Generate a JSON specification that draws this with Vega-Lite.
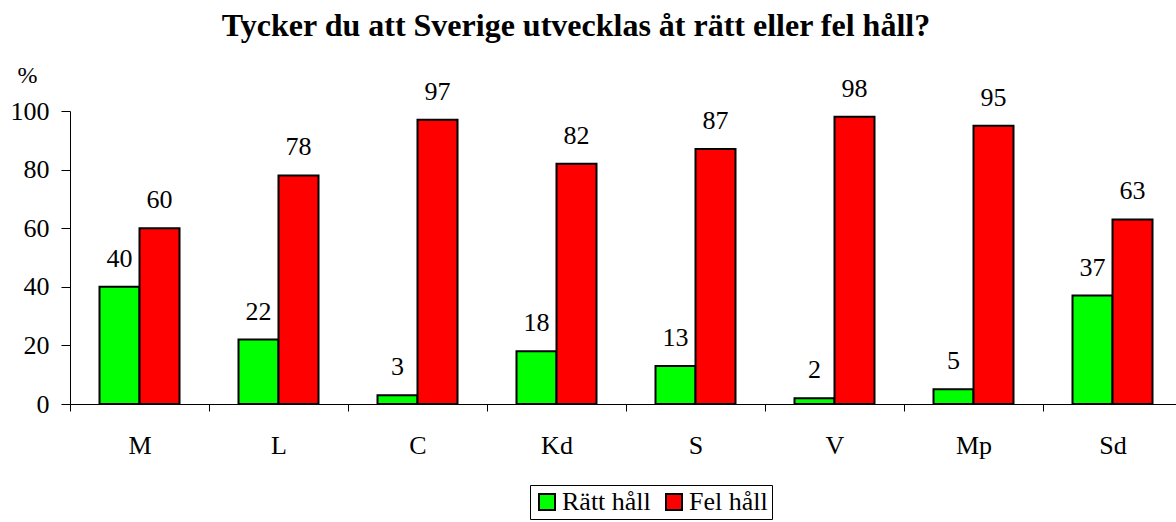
{
  "$schema": "https://vega.github.io/schema/vega-lite/v6.json",
  "width": 1106,
  "height": 293,
  "autosize": {"type": "none"},
  "padding": {"left": 70, "top": 111, "right": 0, "bottom": 118},
  "background": "white",
  "config": {
    "font": "Liberation Serif",
    "view": {"stroke": null},
    "legend": {"labelFont": "Liberation Serif", "labelFontSize": 26, "labelColor": "black", "labelLimit": 400}
  },
  "title": {
    "text": "Tycker du att Sverige utvecklas åt rätt eller fel håll?",
    "font": "Liberation Serif",
    "fontSize": 32,
    "fontWeight": "bold",
    "color": "black",
    "anchor": "middle",
    "frame": "group",
    "baseline": "alphabetic",
    "dx": -47,
    "dy": 25,
    "offset": 20
  },
  "data": {
    "values": [
      {"party": "M", "answer": "Rätt håll", "value": 40},
      {"party": "M", "answer": "Fel håll", "value": 60},
      {"party": "L", "answer": "Rätt håll", "value": 22},
      {"party": "L", "answer": "Fel håll", "value": 78},
      {"party": "C", "answer": "Rätt håll", "value": 3},
      {"party": "C", "answer": "Fel håll", "value": 97},
      {"party": "Kd", "answer": "Rätt håll", "value": 18},
      {"party": "Kd", "answer": "Fel håll", "value": 82},
      {"party": "S", "answer": "Rätt håll", "value": 13},
      {"party": "S", "answer": "Fel håll", "value": 87},
      {"party": "V", "answer": "Rätt håll", "value": 2},
      {"party": "V", "answer": "Fel håll", "value": 98},
      {"party": "Mp", "answer": "Rätt håll", "value": 5},
      {"party": "Mp", "answer": "Fel håll", "value": 95},
      {"party": "Sd", "answer": "Rätt håll", "value": 37},
      {"party": "Sd", "answer": "Fel håll", "value": 63}
    ]
  },
  "encoding": {
    "x": {
      "field": "party",
      "type": "nominal",
      "sort": ["M", "L", "C", "Kd", "S", "V", "Mp", "Sd"],
      "scale": {"paddingInner": 0, "paddingOuter": 0, "range": [0, 1112]},
      "axis": {
        "title": null,
        "tickBand": "extent",
        "labelAngle": 0,
        "labelFont": "Liberation Serif",
        "labelFontSize": 26,
        "labelColor": "black",
        "labelBaseline": "alphabetic",
        "tickSize": 7,
        "tickColor": "black",
        "domainColor": "black",
        "labelPadding": 42
      }
    },
    "xOffset": {
      "field": "answer",
      "type": "nominal",
      "sort": ["Rätt håll", "Fel håll"],
      "scale": {"paddingInner": 0, "paddingOuter": 0.7375}
    },
    "y": {
      "field": "value",
      "type": "quantitative",
      "scale": {"domain": [0, 100]},
      "axis": {
        "values": [0, 20, 40, 60, 80, 100],
        "grid": false,
        "title": "%",
        "titleAngle": 0,
        "titleX": -43,
        "titleY": -36,
        "titleAlign": "center",
        "titleBaseline": "middle",
        "titleFont": "Liberation Serif",
        "titleFontSize": 24,
        "titleFontWeight": "normal",
        "titleColor": "black",
        "labelFont": "Liberation Serif",
        "labelFontSize": 26,
        "labelColor": "black",
        "labelPadding": 12,
        "tickSize": 9,
        "tickColor": "black",
        "domainColor": "black"
      }
    }
  },
  "layer": [
    {
      "mark": {"type": "bar", "stroke": "black", "strokeWidth": 2},
      "encoding": {
        "color": {
          "field": "answer",
          "type": "nominal",
          "scale": {"domain": ["Rätt håll", "Fel håll"], "range": ["#00FF00", "#FF0000"]},
          "legend": {
            "orient": "none",
            "legendX": 460,
            "legendY": 374,
            "direction": "horizontal",
            "title": null,
            "strokeColor": "black",
            "fillColor": "white",
            "padding": 4,
            "symbolType": "square",
            "symbolSize": 256,
            "symbolStrokeColor": "black",
            "symbolStrokeWidth": 2,
            "symbolOpacity": 1,
            "labelFont": "Liberation Serif",
            "labelFontSize": 26,
            "labelColor": "black",
            "labelOffset": 2,
            "columnPadding": 10
          }
        }
      }
    },
    {
      "mark": {"type": "text", "baseline": "alphabetic", "dy": -20, "fontSize": 26, "font": "Liberation Serif", "color": "black"},
      "encoding": {"text": {"field": "value", "type": "quantitative"}}
    }
  ]
}
